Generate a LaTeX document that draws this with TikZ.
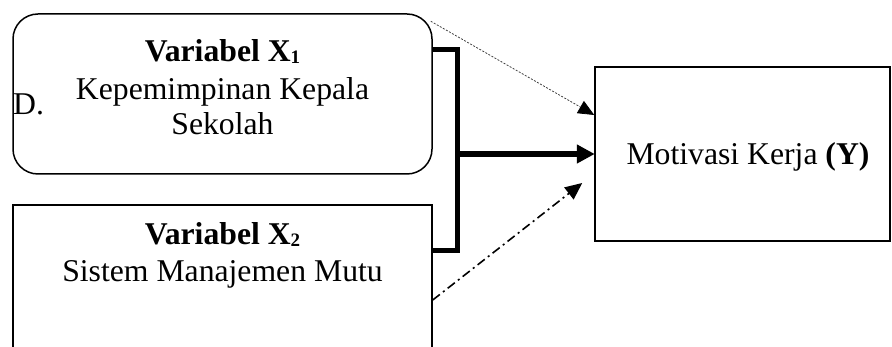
\documentclass[tikz,border=0pt]{standalone}
\usepackage{fontspec}
\setmainfont{Liberation Serif}
\usetikzlibrary{arrows.meta,calc}

\newcommand{\lowidx}[1]{\raisebox{-1.5pt}{\fontsize{19}{19}\selectfont #1}}

\tikzset{
  box/.style={draw, line width=1.5pt, inner sep=0pt, shape=rectangle},
  txt/.style={inner sep=0pt, font=\fontsize{31.7}{36.5}\selectfont},
  bracketline/.style={line width=5pt},
  mainarrow/.style={line width=5.5pt, -{Triangle[length=18pt,width=18pt]}, shorten >=-0.5pt},
  dotarrow/.style={line width=0.8pt, black!75, dash pattern=on 2pt off 1.5pt,
    -{Triangle[length=16pt,width=14pt,black]}},
  dasharrow/.style={line width=1.6pt, dash pattern=on 9pt off 4pt on 2pt off 4pt,
    -{Triangle[length=17pt,width=15pt]}}
}

\begin{document}
\begin{tikzpicture}[x=1pt,y=-1pt]
  \useasboundingbox (0,0) rectangle (892,347);
  \clip (0,0) rectangle (892,347);

  % the three variable boxes
  \node[box, rounded corners=25pt, minimum width=419pt, minimum height=160pt]
    (x1) at (222.5,94) {};
  \node[box, minimum width=419pt, minimum height=200pt] (x2) at (222.5,305) {};
  \node[box, minimum width=295pt, minimum height=174pt] (y) at (742.5,154) {};

  % labels
  \node[txt, anchor=base] (x1a) at (222.5,62) {\textbf{Variabel X\lowidx{1}}};
  \node[txt, anchor=base] (x1b) at (222.5,100) {Kepemimpinan Kepala};
  \node[txt, anchor=base] (x1c) at (222.5,135) {Sekolah};
  \node[txt, anchor=base west] (d) at (13,115) {D.};
  \node[txt, anchor=base] (x2a) at (222.5,245) {\textbf{Variabel X\lowidx{2}}};
  \node[txt, anchor=base] (x2b) at (222.5,282) {Sistem Manajemen Mutu};
  \node[txt, anchor=base] (ya) at (748,165) {Motivasi Kerja \textbf{(Y)}};

  % bracket joining X1 and X2
  \coordinate (j1) at (457,50);
  \coordinate (j2) at (457,251);
  \coordinate (s2) at (0,300);
  \draw[bracketline] (x1.east |- j1) -- (j1) -- (j2) -- (x2.east |- j2);

  % joint influence
  \draw[mainarrow] (j1 |- y.west) -- (y.west);

  % partial influences
  \draw[dotarrow] ($(x1.north east)+(-2,8)$) -- ($(y.west)+(0,-39)$);
  \draw[dasharrow] (x2.east |- s2) -- ($(y.west)+(-12,29)$);
\end{tikzpicture}
\end{document}
